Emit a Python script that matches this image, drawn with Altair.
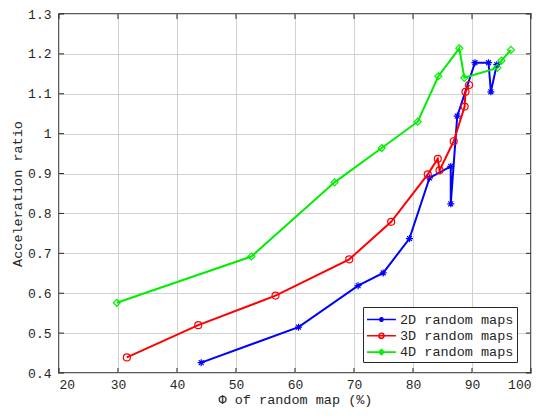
import altair as alt
import pandas as pd

series_names = ["2D random maps", "3D random maps", "4D random maps"]
series_colors = ["#0000ff", "#ff0000", "#00ee00"]

blue_x = [44.1, 60.6, 70.7, 74.95, 79.4, 82.8, 86.4, 86.4, 87.5, 90.5, 92.8, 93.2, 94.2]
blue_y = [0.426, 0.515, 0.619, 0.651, 0.737, 0.889, 0.918, 0.824, 1.044, 1.178, 1.178, 1.105, 1.173]

red_x = [31.5, 43.6, 56.7, 69.2, 76.3, 82.5, 84.2, 84.5, 86.9, 88.75, 88.9, 89.5]
red_y = [0.439, 0.520, 0.594, 0.685, 0.779, 0.898, 0.937, 0.908, 0.981, 1.068, 1.105, 1.122]

green_x = [29.8, 52.6, 66.7, 74.7, 80.8, 84.3, 87.85, 88.7, 94.3, 95.0, 96.6]
green_y = [0.576, 0.692, 0.878, 0.964, 1.030, 1.144, 1.214, 1.140, 1.165, 1.183, 1.210]

x_ticks = [20, 30, 40, 50, 60, 70, 80, 90, 100]
y_ticks = [0.4, 0.5, 0.6, 0.7, 0.8, 0.9, 1.0, 1.1, 1.2, 1.3]

x_title = "Φ of random map (%)"
y_title = "Acceleration ratio"

rows = []
for name, xs_, ys_ in zip(series_names, [blue_x, red_x, green_x], [blue_y, red_y, green_y]):
    for i, (xv, yv) in enumerate(zip(xs_, ys_)):
        rows.append({"series": name, "series_m": name, "phi": xv, "ratio": yv, "order": i})
df = pd.DataFrame(rows)

# marker glyphs (asterisk, circle, diamond)
marker_paths = [
    "M-1,0L1,0M0,-1L0,1M-0.7,-0.7L0.7,0.7M-0.7,0.7L0.7,-0.7",
    "M1,0A1,1 0 1,1 -1,0A1,1 0 1,1 1,0Z",
    "M0,-1L1,0L0,1L-1,0Z",
]
# legend glyphs: line with marker in its middle
legend_paths = [
    "M-1,0L2.4,0M0.4,0L1,0M0.7,-0.3L0.7,0.3M0.49,-0.21L0.91,0.21M0.49,0.21L0.91,-0.21",
    "M-1,0L2.4,0M1,0A0.3,0.3 0 1,1 0.4,0A0.3,0.3 0 1,1 1,0",
    "M-1,0L2.4,0M0.7,-0.3L1,0L0.7,0.3L0.4,0Z",
]

W, H = 472, 359
FONT = "Liberation Mono"
INK = "#262626"

xs = alt.Scale(domain=[20, 100], nice=False)
ys = alt.Scale(domain=[0.4, 1.3], nice=False, zero=False)

x_axis = alt.Axis(values=x_ticks, format="d", labelPadding=5, titlePadding=1, grid=True)
y_axis = alt.Axis(values=y_ticks, format="~g", labelPadding=8, titlePadding=3, grid=True)

X_ENC = dict(scale=xs, axis=x_axis, title=x_title)
Y_ENC = dict(scale=ys, axis=y_axis, title=y_title)

base = alt.Chart(df)

lines = base.mark_line(strokeWidth=2).encode(
    x=alt.X("phi:Q", **X_ENC),
    y=alt.Y("ratio:Q", **Y_ENC),
    color=alt.Color("series:N", scale=alt.Scale(domain=series_names, range=series_colors), legend=None),
    order=alt.Order("order:Q"),
)

markers = base.mark_point(filled=False, size=49, strokeWidth=1.2, opacity=1).encode(
    x=alt.X("phi:Q", **X_ENC),
    y=alt.Y("ratio:Q", **Y_ENC),
    color=alt.Color("series:N", scale=alt.Scale(domain=series_names, range=series_colors), legend=None),
    shape=alt.Shape("series_m:N", scale=alt.Scale(domain=series_names, range=marker_paths), legend=None),
)

leg = alt.Legend(
    title=None, orient="none", legendX=304, legendY=293,
    labelFont=FONT, labelFontSize=13.5, labelColor=INK, labelOffset=15,
    symbolSize=289, symbolStrokeWidth=1.6, rowPadding=0.3, padding=3,
    strokeColor=INK, fillColor="white",
)

legend_layer = base.mark_point(filled=False, opacity=1).transform_filter("datum.order < 0").encode(
    x=alt.X("phi:Q", **X_ENC),
    y=alt.Y("ratio:Q", **Y_ENC),
    color=alt.Color("series:N", scale=alt.Scale(domain=series_names, range=series_colors), legend=leg),
    shape=alt.Shape("series:N", scale=alt.Scale(domain=series_names, range=legend_paths), legend=leg),
)

xt = pd.DataFrame({"t": x_ticks})
yt = pd.DataFrame({"t": y_ticks})
tick_style = dict(color=INK, strokeWidth=1)
bottom_ticks = alt.Chart(xt).mark_rule(**tick_style).encode(
    x=alt.X("t:Q", **X_ENC), y=alt.value(H), y2=alt.value(H - 5))
top_ticks = alt.Chart(xt).mark_rule(**tick_style).encode(
    x=alt.X("t:Q", **X_ENC), y=alt.value(0), y2=alt.value(5))
left_ticks = alt.Chart(yt).mark_rule(**tick_style).encode(
    y=alt.Y("t:Q", **Y_ENC), x=alt.value(0), x2=alt.value(5))
right_ticks = alt.Chart(yt).mark_rule(**tick_style).encode(
    y=alt.Y("t:Q", **Y_ENC), x=alt.value(W), x2=alt.value(W - 5))

chart = alt.layer(
    lines, markers, legend_layer, bottom_ticks, top_ticks, left_ticks, right_ticks
).resolve_scale(
    color="independent", shape="independent"
).properties(
    width=W, height=H,
    autosize=alt.AutoSizeParams(type="none"),
    padding={"left": 51, "top": 6, "right": 13, "bottom": 36},
).configure_view(
    stroke=INK, strokeWidth=1.5
).configure_axis(
    labelFont=FONT, labelFontSize=13, labelColor=INK,
    titleFont=FONT, titleFontSize=13.5, titleFontWeight="normal", titleColor=INK,
    ticks=False, domain=False, gridColor="#d2d2d2", gridWidth=1,
)

chart.save("out.html", embed_options={"renderer": "svg", "actions": False})
